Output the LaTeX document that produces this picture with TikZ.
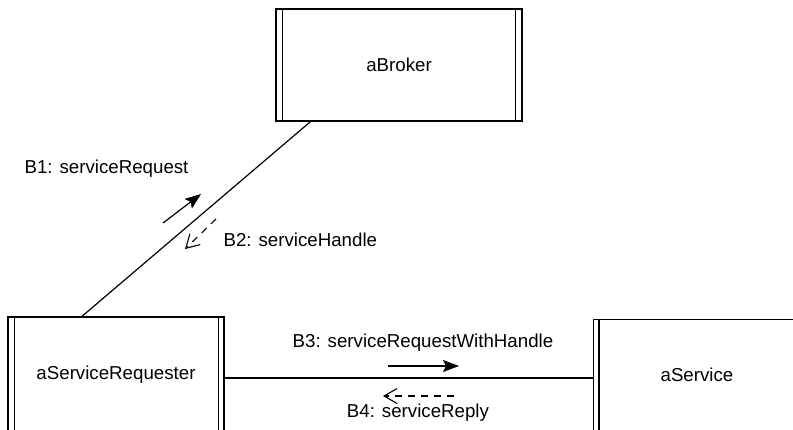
\documentclass[tikz,border=0pt]{standalone}
\usepackage{fontspec}
\setmainfont{Liberation Sans}
\usetikzlibrary{arrows.meta,calc}
\begin{document}
\begin{tikzpicture}[x=1pt,y=-1pt,
  line width=1.2pt,
  lbl/.style={font=\fontsize{18.7}{22}\selectfont, inner sep=0pt},
  obj/.style={draw, rectangle, font=\fontsize{18.7}{22}\selectfont, inner sep=0pt},
  msgarrow/.style={line width=1.2pt, -{Stealth[length=16pt,width=12pt,inset=3pt]}},
  replyarrow/.style={line width=1.1pt, dash pattern=on 7pt off 6pt, -{Straight Barb[length=13pt,width=15pt,line width=1.1pt]}},
  conn/.style={line width=1.2pt}]
\useasboundingbox (0,0) rectangle (793,429);
\clip (0,0) rectangle (793,429);
% objects
\node[obj, minimum width=246pt, minimum height=112pt] (broker) at (399,65) {aBroker};
\node[obj, minimum width=216pt, minimum height=116pt] (req) at (116,375) {aServiceRequester};
\node[obj, minimum width=210pt, minimum height=112pt, anchor=north west] (svc) at (593,319) {};
\node[lbl] (svctext) at (697,375) {aService};
% active-object side bars
\draw ([xshift=7pt]broker.north west) -- ([xshift=7pt]broker.south west);
\draw ([xshift=-7pt]broker.north east) -- ([xshift=-7pt]broker.south east);
\draw ([xshift=7pt]req.north west) -- ([xshift=7pt]req.south west);
\draw ([xshift=-6pt]req.north east) -- ([xshift=-6pt]req.south east);
\draw ([xshift=6pt]svc.north west) -- ([xshift=6pt]svc.south west);
% links
\coordinate (bkl) at ($(broker.south west)!0.142!(broker.south east)$);
\coordinate (rqt) at ($(req.north west)!0.343!(req.north east)$);
\draw[conn] (bkl) -- (rqt);
\coordinate (rqr) at (req.east |- 0,378);
\coordinate (svl) at (svc.west |- 0,378);
\draw[conn] (rqr) -- (svl);
% message arrows
\coordinate (a1s) at (163,223);
\coordinate (a1e) at (201,194);
\draw[msgarrow] (a1s) -- (a1e);
\coordinate (a2s) at (216,219);
\coordinate (a2e) at (185,249);
\draw[replyarrow] (a2s) -- (a2e);
\coordinate (a3s) at (388,366);
\coordinate (a3e) at (459,366);
\draw[msgarrow] (a3s) -- (a3e);
\coordinate (a4s) at (454,396);
\coordinate (a4e) at (383,396);
\draw[replyarrow] (a4s) -- (a4e);
% labels
\node[lbl, anchor=west] (b1) at (24,169) {B1: serviceRequest};
\node[lbl, anchor=west] (b2) at (223,240) {B2: serviceHandle};
\node[lbl] (b3) at (423,343) {B3: serviceRequestWithHandle};
\node[lbl] (b4) at (418,413) {B4: serviceReply};
\end{tikzpicture}
\end{document}
